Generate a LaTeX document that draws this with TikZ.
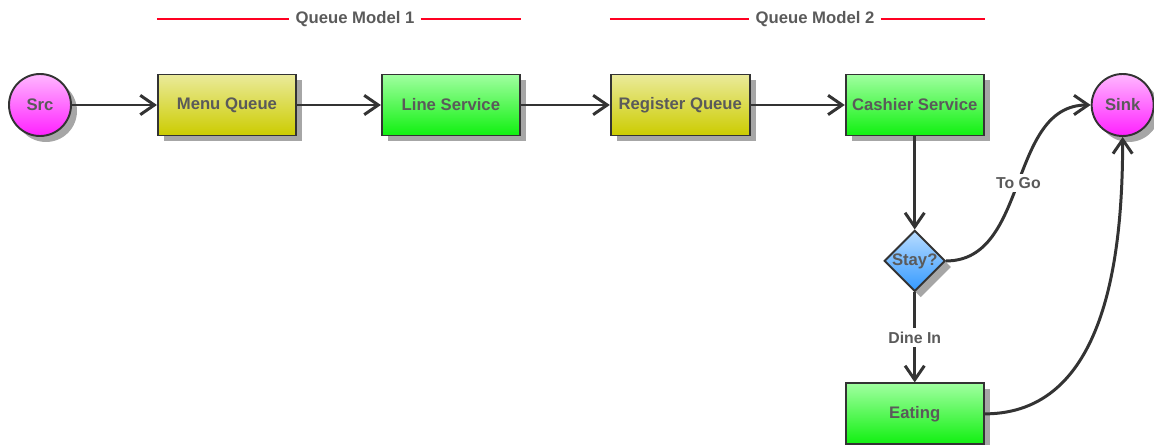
\documentclass[tikz,border=0pt]{standalone}
\usepackage{fontspec}
\setmainfont{Liberation Sans}
\usepackage{xcolor}
\usepackage{tikz}
\usetikzlibrary{shapes.geometric, arrows.meta, positioning, shadows}
\definecolor{textgray}{HTML}{5A5A5A}
\definecolor{linegray}{HTML}{333333}
\definecolor{queuetop}{HTML}{EAEA9A}
\definecolor{queuebot}{HTML}{CCCC00}
\definecolor{servertop}{HTML}{A0FFA0}
\definecolor{serverbot}{HTML}{10F010}
\definecolor{pinktop}{HTML}{FFB8FF}
\definecolor{pinkbot}{HTML}{FF20FF}
\definecolor{bluetop}{HTML}{B8DCFF}
\definecolor{bluebot}{HTML}{3399FF}
\definecolor{modelred}{HTML}{FF0022}

\begin{document}
\begin{tikzpicture}[font=\fontsize{9.5}{11}\selectfont\bfseries, every node/.style={text=textgray},
  boxshadow/.style={drop shadow={shadow xshift=0.12cm, shadow yshift=-0.12cm, fill=black!35, opacity=1}},
  block/.style={rectangle, draw=linegray, line width=1.1pt, minimum width=2.76cm, minimum height=1.22cm, boxshadow},
  queue/.style={block, top color=queuetop, bottom color=queuebot},
  server/.style={block, top color=servertop, bottom color=serverbot},
  terminal/.style={circle, draw=linegray, line width=1.1pt, minimum size=1.24cm, inner sep=0pt, top color=pinktop, bottom color=pinkbot, boxshadow},
  decision/.style={diamond, draw=linegray, line width=1.1pt, aspect=1, minimum size=1.22cm, inner sep=0pt, top color=bluetop, bottom color=bluebot, boxshadow},
  flow/.style={-{Straight Barb[length=8pt, width=11pt]}, line width=1.7pt, draw=linegray},
  header/.style={inner sep=0.12cm},
  model/.style={draw=modelred, line width=1.6pt},
  tag/.style={fill=white, inner sep=2pt, font=\fontsize{9}{11}\selectfont\bfseries}]
    \useasboundingbox (0,0) rectangle (23.08,-8.90);

    % sources, queues and servers
    \node (src) [terminal] at (0.80,-2.10) {Src};
    \node (menu) [queue, right=1.70cm of src] {Menu Queue};
    \node (line) [server, right=1.68cm of menu] {Line Service};
    \node (register) [queue, right=1.78cm of line, minimum width=2.78cm] {Register Queue};
    \node (cashier) [server, right=1.88cm of register] {Cashier Service};
    \node (sink) [terminal, right=2.12cm of cashier] {Sink};
    \node (stay) [decision, below=1.86cm of cashier] {Stay?};
    \node (eating) [server, below=1.8cm of stay] {Eating};

    % model headers
    \node (qmone) [header] at (7.10,-0.38) {Queue Model 1};
    \draw [model] (menu.west |- qmone) -- (qmone.west);
    \draw [model] (qmone.east) -- (line.east |- qmone);
    \node (qmtwo) [header] at (16.30,-0.38) {Queue Model 2};
    \draw [model] (register.west |- qmtwo) -- (qmtwo.west);
    \draw [model] (qmtwo.east) -- (cashier.east |- qmtwo);

    \draw [flow] (src) -- (menu);
    \draw [flow] (menu) -- (line);
    \draw [flow] (line) -- (register);
    \draw [flow] (register) -- (cashier);
    \draw [flow] (cashier) -- (stay);
    \draw [flow] (stay.east) to[out=0, in=180] node [tag] {To Go} (sink.west);
    \draw [flow] (stay) -- node [tag] {Dine In} (eating);
    \draw [flow] (eating.east) to[out=0, in=-90] (sink.south);
\end{tikzpicture}
\end{document}
